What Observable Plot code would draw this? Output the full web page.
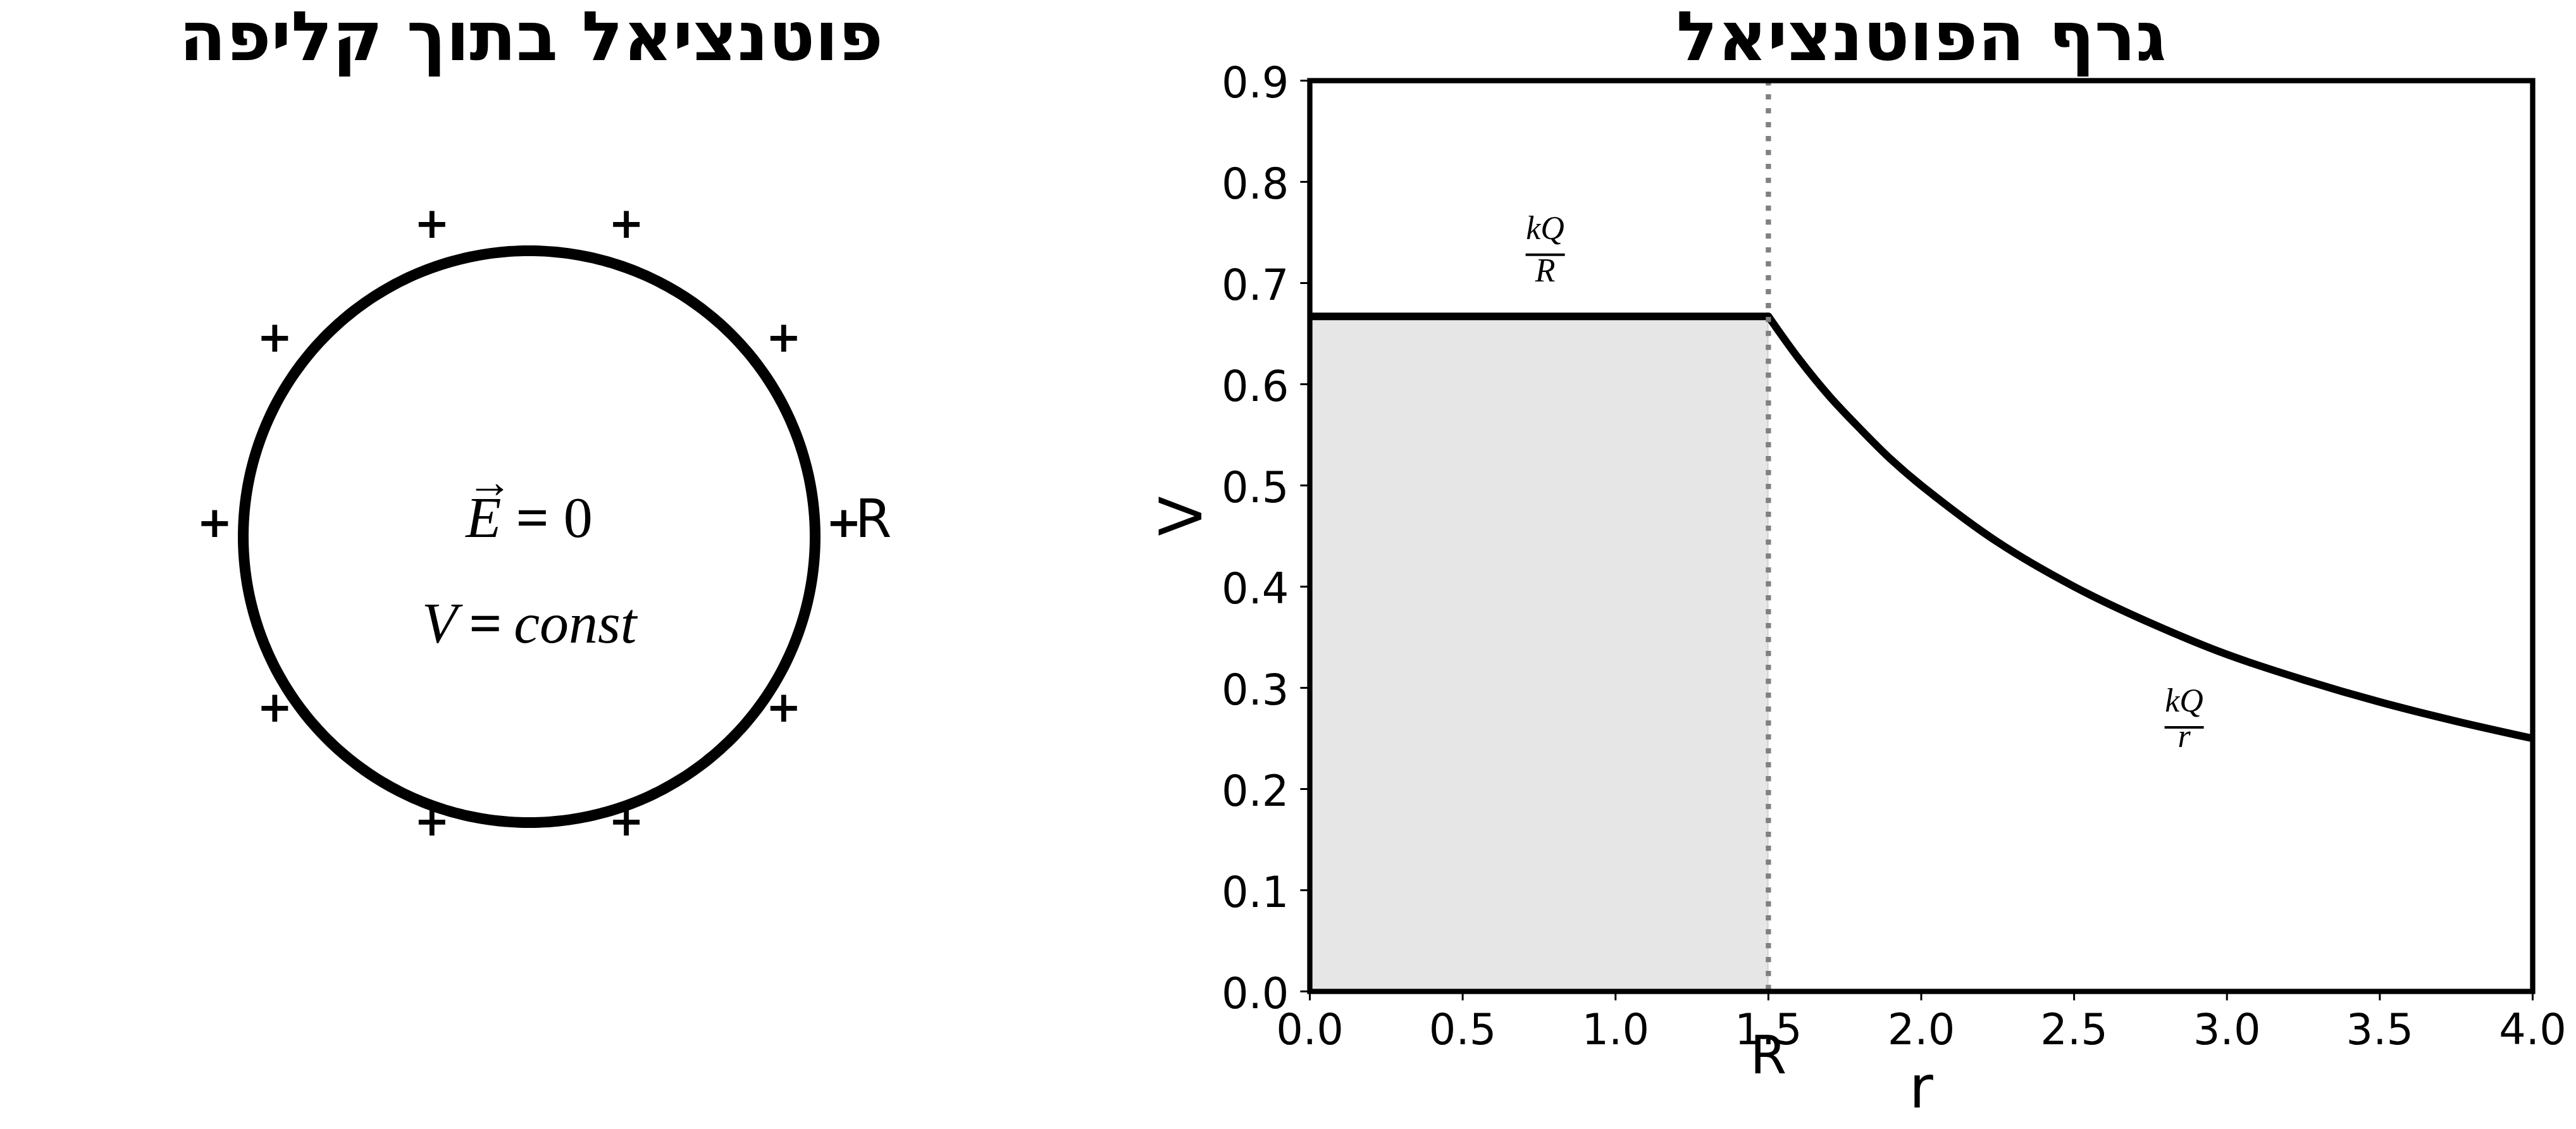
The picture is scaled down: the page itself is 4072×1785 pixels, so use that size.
<!DOCTYPE html>
<html>
<head>
<meta charset="utf-8">
<script src="https://cdn.jsdelivr.net/npm/d3@7"></script>
<script src="https://cdn.jsdelivr.net/npm/@observablehq/plot@0.6"></script>
<style>
html, body { margin: 0; padding: 0; background: #fff; }
#fig { position: relative; width: 4072px; height: 1785px; overflow: hidden; background: #fff; }
#left { position: absolute; left: 0; top: 0; width: 1700px; height: 1785px; }
#right { position: absolute; left: 1750px; top: 0; width: 2322px; height: 1785px; }
</style>
</head>
<body>
<div id="fig"><div id="left"></div><div id="right"></div></div>
<script>
// ---------------- data ----------------
// left panel (schematic of the charged shell, radius = 1 unit)
const leftTitle = "פוטנציאל בתוך קליפה";
const shellRadius = 1;
const chargeAngles = [0, 36, 72, 108, 144, 180, 216, 252, 288, 324];
const chargeRadius = 1.1;
const chargeSymbol = "+";
const radiusLabel = "R";
const radiusLabelX = [1.14];
const radiusLabelY = [0];
const insideTexts = ["E = 0", "V\u2009=\u2009const"];
const insideTextX = [0, 0];
const insideTextY = [0, -0.37];
const vecArrow = "→";
const vecArrowX = [-0.139];
const vecArrowY = [0.19];

// right panel (potential graph)
const rightTitle = "גרף הפוטנציאל";
const shellR = 1.5;
const rInside = [0, 1.5];
const vInside = [0.667, 0.667];
const rOutside = [1.5, 1.6, 1.7, 1.8, 1.9, 2.0, 2.25, 2.5, 2.75, 3.0, 3.25, 3.5, 3.75, 4.0];
const vOutside = [0.667, 0.625, 0.588, 0.556, 0.526, 0.5, 0.444, 0.4, 0.364, 0.333, 0.308, 0.286, 0.267, 0.25];
const xTicks = [0, 0.5, 1, 1.5, 2, 2.5, 3, 3.5, 4];
const yTicks = [0, 0.1, 0.2, 0.3, 0.4, 0.5, 0.6, 0.7, 0.8, 0.9];
const xLabel = "r";
const yLabel = "V";
const shellTickLabel = "R";
const fracNum = ["kQ", "kQ"];
const fracDen = ["R", "r"];
const fracX = [0.77, 2.86];
const fracY = [0.728, 0.261];

// ---------------- left panel ----------------
const pxPerUnit = 452, cx = 836, cy = 848, LW = 1700, LH = 1785;
const circlePts = d3.range(0, 360, 1).map(a => ({
  x: shellRadius * Math.cos(a * Math.PI / 180),
  y: shellRadius * Math.sin(a * Math.PI / 180)
}));
const charges = chargeAngles.map(a => ({
  x: chargeRadius * Math.cos(a * Math.PI / 180),
  y: chargeRadius * Math.sin(a * Math.PI / 180)
}));
const insideRows = insideTexts.map((t, i) => ({t, x: insideTextX[i], y: insideTextY[i]}));
const arrowRows = vecArrowX.map((x, i) => ({x, y: vecArrowY[i], t: vecArrow}));
const rLabelRows = radiusLabelX.map((x, i) => ({x, y: radiusLabelY[i], t: radiusLabel}));

const leftPlot = Plot.plot({
  width: LW, height: LH, margin: 0,
  x: {domain: [-cx / pxPerUnit, (LW - cx) / pxPerUnit], axis: null},
  y: {domain: [-(LH - cy) / pxPerUnit, cy / pxPerUnit], axis: null},
  style: {fontFamily: "DejaVu Sans", background: "white", color: "black", overflow: "visible"},
  marks: [
    Plot.line(circlePts, {x: "x", y: "y", curve: "linear-closed", stroke: "black", strokeWidth: 17}),
    Plot.text(charges, {x: "x", y: "y", text: () => chargeSymbol, fontSize: 67, fontWeight: "bold", lineAnchor: "bottom", fill: "black"}),
    Plot.text(rLabelRows, {x: "x", y: "y", text: "t", fontSize: 83, textAnchor: "start", lineAnchor: "bottom", fill: "black"}),
    Plot.text(insideRows, {x: "x", y: "y", text: "t", fontSize: 92, fontFamily: "Liberation Serif", lineAnchor: "bottom", fill: "black"}),
    Plot.text(arrowRows, {x: "x", y: "y", text: "t", fontSize: 72, fontFamily: "Liberation Serif", fill: "black"}),
    Plot.text([leftTitle], {x: () => 0.007, frameAnchor: "top", text: d => d, fontSize: 108, fontWeight: "bold", lineAnchor: "bottom", dy: 94, fill: "black"})
  ]
});
// italicise math letters in the equations, thicker "="
leftPlot.querySelectorAll("text").forEach(el => {
  const s = el.textContent;
  if (insideTexts.includes(s)) {
    el.textContent = "";
    s.split(/([A-Za-z]+|=)/).forEach(part => {
      if (!part) return;
      const ts = document.createElementNS("http://www.w3.org/2000/svg", "tspan");
      ts.textContent = part;
      if (/^[A-Za-z]+$/.test(part)) ts.setAttribute("font-style", "italic");
      if (part === "=") ts.setAttribute("font-weight", "bold");
      el.appendChild(ts);
    });
  }
});
document.getElementById("left").appendChild(leftPlot);

// ---------------- right panel ----------------
const inside = rInside.map((r, i) => ({r, V: vInside[i]}));
const outside = rOutside.map((r, i) => ({r, V: vOutside[i]}));
const fracs = fracX.map((x, i) => ({x, y: fracY[i], num: fracNum[i], den: fracDen[i]}));
const barSymbol = {
  draw(context, size) {
    const w = Math.sqrt(size / Math.PI);
    context.moveTo(-w, 0);
    context.lineTo(w, 0);
  }
};
const fmt = d3.format(".1f");

const rightPlot = Plot.plot({
  width: 2322, height: 1785,
  marginLeft: 320, marginRight: 69, marginTop: 127, marginBottom: 218,
  x: {domain: [0, 4]},
  y: {domain: [0, 0.9]},
  style: {fontFamily: "DejaVu Sans", fontSize: "67px", background: "white", color: "black", overflow: "visible"},
  marks: [
    Plot.areaY(inside, {x: "r", y: "V", fill: "gray", fillOpacity: 0.2, stroke: "gray", strokeOpacity: 0.2, strokeWidth: 3}),
    Plot.line(inside, {x: "r", y: "V", stroke: "black", strokeWidth: 12, clip: true}),
    Plot.line(outside, {x: "r", y: "V", stroke: "black", strokeWidth: 12, curve: "catmull-rom", clip: true}),
    Plot.ruleX([shellR], {stroke: "gray", strokeWidth: 8.3, strokeDasharray: "8.3,13.7"}),
    Plot.frame({stroke: "black", strokeWidth: 8.3}),
    Plot.axisX({ticks: xTicks, tickFormat: fmt, tickSize: 14.6, tickPadding: 21, strokeWidth: 3, fontSize: 67, label: null}),
    Plot.axisY({ticks: yTicks, tickFormat: () => "", tickSize: 14.6, strokeWidth: 3, label: null}),
    Plot.text(yTicks, {y: d => d, frameAnchor: "left", text: d => fmt(d), textAnchor: "end", dx: -33, dy: 4.6, fontSize: 67, fill: "black"}),
    Plot.dot(fracs, {x: "x", y: "y", symbol: barSymbol, r: 31, fill: "none", stroke: "black", strokeWidth: 4}),
    Plot.text(fracs, {x: "x", y: "y", text: "num", fontFamily: "Liberation Serif", fontStyle: "italic", fontSize: 52, lineAnchor: "bottom", dy: -25, fill: "black"}),
    Plot.text(fracs.filter(d => d.den === "R"), {x: "x", y: "y", text: "den", fontFamily: "Liberation Serif", fontStyle: "italic", fontSize: 52, lineAnchor: "bottom", dy: 42, fill: "black"}),
    Plot.text(fracs.filter(d => d.den !== "R"), {x: "x", y: "y", text: "den", fontFamily: "Liberation Serif", fontStyle: "italic", fontSize: 52, lineAnchor: "bottom", dy: 31, fill: "black"}),
    Plot.text([xLabel], {frameAnchor: "bottom", text: d => d, fontSize: 92, lineAnchor: "bottom", dy: 183, fill: "black"}),
    Plot.text([yLabel], {frameAnchor: "left", text: d => d, fontSize: 92, rotate: -90, lineAnchor: "bottom", dx: -172, fill: "black"}),
    Plot.text([shellTickLabel], {x: () => shellR, frameAnchor: "bottom", text: d => d, fontSize: 83, lineAnchor: "bottom", dy: 129, fill: "black"}),
    Plot.text([rightTitle], {frameAnchor: "top", text: d => d, fontSize: 108, fontWeight: "bold", lineAnchor: "bottom", dy: -33, fill: "black"})
  ]
});
document.getElementById("right").appendChild(rightPlot);
</script>
</body>
</html>
